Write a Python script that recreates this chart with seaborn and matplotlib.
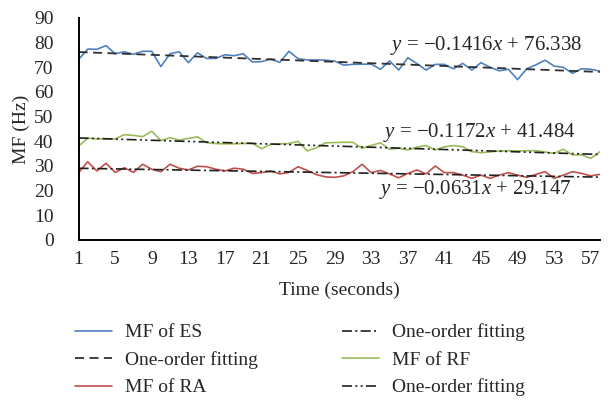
import numpy as np
import pandas as pd
import matplotlib
matplotlib.use("Agg")
import matplotlib.pyplot as plt
import seaborn as sns

# seconds 1..58
seconds = list(range(1, 59))

mf_es = [73.2, 77.4, 77.3, 78.8, 75.5, 76.3, 75.3, 76.5, 76.5, 70.3,
         75.5, 76.3, 71.9, 75.9, 73.6, 73.6, 75.1, 74.7, 75.5, 72.2,
         72.3, 73.4, 72.0, 76.5, 73.5, 73.0, 73.0, 72.9, 72.5, 70.9,
         71.2, 71.3, 71.3, 69.2, 72.6, 68.9, 73.9, 71.5, 68.9, 71.2,
         71.2, 69.4, 71.6, 68.9, 71.9, 70.0, 68.6, 69.2, 65.0, 69.4,
         71.0, 72.9, 70.5, 70.0, 67.6, 69.4, 69.2, 68.5]

mf_rf = [38.1, 41.3, 41.0, 41.1, 41.0, 42.7, 42.4, 41.9, 44.1, 40.3,
         41.5, 40.5, 41.2, 41.8, 39.4, 39.1, 39.0, 39.0, 39.1, 39.3,
         37.0, 38.8, 39.0, 39.1, 40.0, 36.1, 37.4, 39.4, 39.5, 39.6,
         39.6, 37.2, 38.3, 39.4, 36.8, 37.2, 36.5, 37.6, 38.3, 36.5,
         37.8, 38.3, 37.8, 35.8, 35.4, 35.7, 36.1, 36.2, 36.1, 36.2,
         36.2, 35.7, 35.1, 36.8, 34.5, 34.5, 33.1, 35.8]

mf_ra = [27.3, 31.7, 28.0, 31.1, 27.4, 29.3, 27.4, 30.7, 28.7, 27.7,
         30.7, 29.1, 28.4, 29.9, 29.7, 28.7, 28.0, 29.1, 28.7, 27.0,
         27.3, 28.0, 26.8, 27.4, 29.7, 28.2, 26.5, 25.6, 25.4, 26.0,
         27.7, 30.7, 27.3, 28.2, 26.8, 25.2, 27.0, 28.4, 26.8, 30.0,
         27.3, 27.3, 26.3, 25.0, 26.3, 25.0, 26.3, 27.3, 26.3, 25.4,
         26.6, 27.7, 25.0, 26.3, 27.7, 27.0, 26.0, 26.6]

# one-order fitting coefficients (slope, intercept)
fit_es = (-0.1416, 76.338)
fit_rf = (-0.1172, 41.484)
fit_ra = (-0.0631, 29.147)

x_ticks = list(range(1, 58, 4))
y_ticks = list(range(0, 91, 10))

sns.set_style("white")
plt.rcParams["font.family"] = ["Liberation Serif", "DejaVu Serif"]
plt.rcParams["mathtext.fontset"] = "custom"
plt.rcParams["mathtext.rm"] = "Liberation Serif"
plt.rcParams["mathtext.it"] = "Liberation Serif:italic"

fig = plt.figure(figsize=(6.14, 4.0), dpi=100)
ax = fig.add_axes([0.128, 0.4, 0.849, 0.555])

x = np.array(seconds)
blue, green, red = "#4F81BD", "#9BBB59", "#C0504D"

sns.lineplot(x=x, y=mf_es, ax=ax, color=blue, lw=1.2, label="MF of ES")
ax.plot(x, fit_es[0] * x + fit_es[1], color="#303030", lw=1.3,
        dashes=(5, 3), label="One-order fitting")
sns.lineplot(x=x, y=mf_ra, ax=ax, color=red, lw=1.2, label="MF of RA")
ax.plot(x, fit_ra[0] * x + fit_ra[1], color="#202020", lw=1.2,
        dashes=(6, 2, 1.2, 2), label="One-order fitting")
sns.lineplot(x=x, y=mf_rf, ax=ax, color=green, lw=1.2, label="MF of RF")
ax.plot(x, fit_rf[0] * x + fit_rf[1], color="#202020", lw=1.2,
        dashes=(6, 2, 1.2, 2, 1.2, 2), label="One-order fitting")

ax.set_xlim(1, 58)
ax.set_ylim(0, 90)
ax.set_xticks(x_ticks)
ax.set_yticks(y_ticks)
ax.tick_params(labelsize=14, length=0)
ax.tick_params(axis="y", pad=18)
ax.tick_params(axis="x", pad=8)
ax.set_xlabel("Time (seconds)", fontsize=14, labelpad=10)
ax.set_ylabel("MF (Hz)", fontsize=14, labelpad=3)
for s in ["top", "right"]:
    ax.spines[s].set_visible(False)
for s in ["left", "bottom"]:
    ax.spines[s].set_color("black")
    ax.spines[s].set_linewidth(1.4)

eq_size = 15
ax.text(45.6, 79.0, r"$y$ = −0.1416$x$ + 76.338", fontsize=eq_size, ha="center", va="center")
ax.text(44.8, 43.4, r"$y$ = −0.1172$x$ + 41.484", fontsize=eq_size, ha="center", va="center")
ax.text(44.4, 20.3, r"$y$ = −0.0631$x$ + 29.147", fontsize=eq_size, ha="center", va="center")

handles, labels = ax.get_legend_handles_labels()
ax.get_legend().remove()
fig.legend(handles, labels, ncol=2, loc="upper left", bbox_to_anchor=(0.093, 0.235),
           frameon=False, fontsize=14, handlelength=1.9, columnspacing=4.3,
           labelspacing=0.5, handletextpad=0.7, borderpad=0.4)

fig.savefig("out.png", dpi=100)
